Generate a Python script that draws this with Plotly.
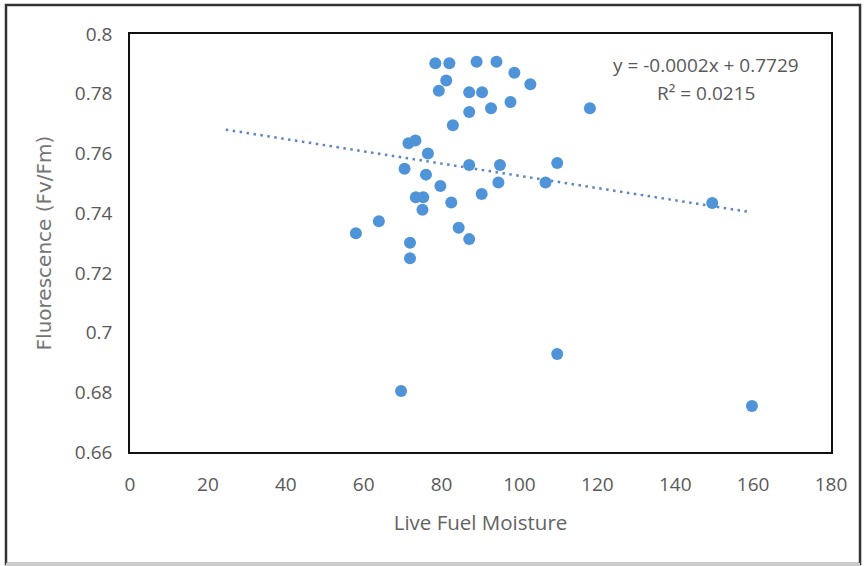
import plotly.graph_objects as go

# Data
live_fuel_moisture = [58.0, 63.9, 70.5, 71.5, 73.3, 71.9, 71.9, 69.6, 76.5, 76.0,
                      73.4, 75.3, 75.1, 79.7, 82.5, 84.4, 87.1, 87.1, 87.1, 82.9,
                      90.3, 94.6, 95.0, 92.7, 87.1, 90.4, 97.7, 98.7, 102.8, 106.7,
                      109.7, 109.7, 118.1, 149.5, 159.7, 78.4, 82.0, 89.0, 94.1, 81.2,
                      79.3]
fluorescence = [0.7333, 0.7373, 0.7549, 0.7634, 0.7643, 0.7301, 0.7249, 0.6804, 0.7600, 0.7529,
                0.7453, 0.7453, 0.7411, 0.7491, 0.7436, 0.7351, 0.7313, 0.7561, 0.7739, 0.7694,
                0.7464, 0.7503, 0.7561, 0.7751, 0.7805, 0.7805, 0.7772, 0.7870, 0.7832, 0.7503,
                0.7568, 0.6928, 0.7751, 0.7434, 0.6754, 0.7902, 0.7902, 0.7907, 0.7907, 0.7844,
                0.7810]

trend_x_range = [24.6, 159.0]
trend_slope = -0.000205
trend_intercept = 0.7730
equation_text = "y = -0.0002x + 0.7729"
r2_text = "R² = 0.0215"

x_ticks = [0, 20, 40, 60, 80, 100, 120, 140, 160, 180]
y_ticks = [0.66, 0.68, 0.70, 0.72, 0.74, 0.76, 0.78, 0.80]
y_tick_labels = ["0.66", "0.68", "0.7", "0.72", "0.74", "0.76", "0.78", "0.8"]

trend_y = [trend_slope * x + trend_intercept for x in trend_x_range]

fig = go.Figure()
fig.add_trace(go.Scatter(
    x=trend_x_range, y=trend_y, mode="lines",
    line=dict(color="#5A86BE", width=2.5, dash="2.5px,4.5px"),
    hoverinfo="skip", showlegend=False,
))
fig.add_trace(go.Scatter(
    x=live_fuel_moisture, y=fluorescence, mode="markers",
    marker=dict(color="#4F93D8", size=12, line=dict(width=0)),
    showlegend=False,
))

tick_font = dict(family="Open Sans", size=19, color="#595959")

fig.update_xaxes(
    range=[0, 180], tickvals=x_ticks, ticktext=[str(v) for v in x_ticks],
    showgrid=False, zeroline=False, showline=True, mirror=True,
    linecolor="#111111", linewidth=1.5, ticks="", tickfont=tick_font,
    ticklabelstandoff=14,
    title=dict(text="Live Fuel Moisture",
               font=dict(family="Open Sans", size=20.5, color="#636363"), standoff=20),
)
fig.update_yaxes(
    range=[0.66, 0.80], tickvals=y_ticks, ticktext=y_tick_labels,
    showgrid=False, zeroline=False, showline=True, mirror=True,
    linecolor="#111111", linewidth=1.5, ticks="", tickfont=tick_font,
    ticklabelstandoff=12,
    title=dict(text="Fluorescence (Fv/Fm)",
               font=dict(family="DejaVu Sans", size=20, color="#747474"), standoff=18),
)

fig.add_annotation(x=147.9, y=0.7896, xref="x", yref="y", text=equation_text,
                   showarrow=False, font=dict(family="Open Sans", size=19, color="#595959"))
fig.add_annotation(x=147.9, y=0.7802, xref="x", yref="y", text=r2_text,
                   showarrow=False, font=dict(family="Open Sans", size=19, color="#595959"))

# outer frame of the figure
fig.add_shape(type="rect", xref="paper", yref="paper", x0=-0.1769, x1=1.0414, y0=-0.2679, y1=1.0694,
              line=dict(color="#333333", width=2.5), fillcolor="rgba(0,0,0,0)", layer="above")
fig.add_shape(type="line", xref="paper", yref="paper", x0=-0.1769, x1=1.0414, y0=-0.2679, y1=-0.2679,
              line=dict(color="#cccccc", width=2.5), layer="above")

fig.update_layout(
    width=864, height=566,
    margin=dict(l=130, r=33, t=34, b=114),
    paper_bgcolor="white", plot_bgcolor="white",
    font=dict(family="Open Sans"),
)

fig.write_html("out.html", config={"displayModeBar": False},
               post_script="document.body.style.margin='0';document.body.style.overflow='hidden';")
